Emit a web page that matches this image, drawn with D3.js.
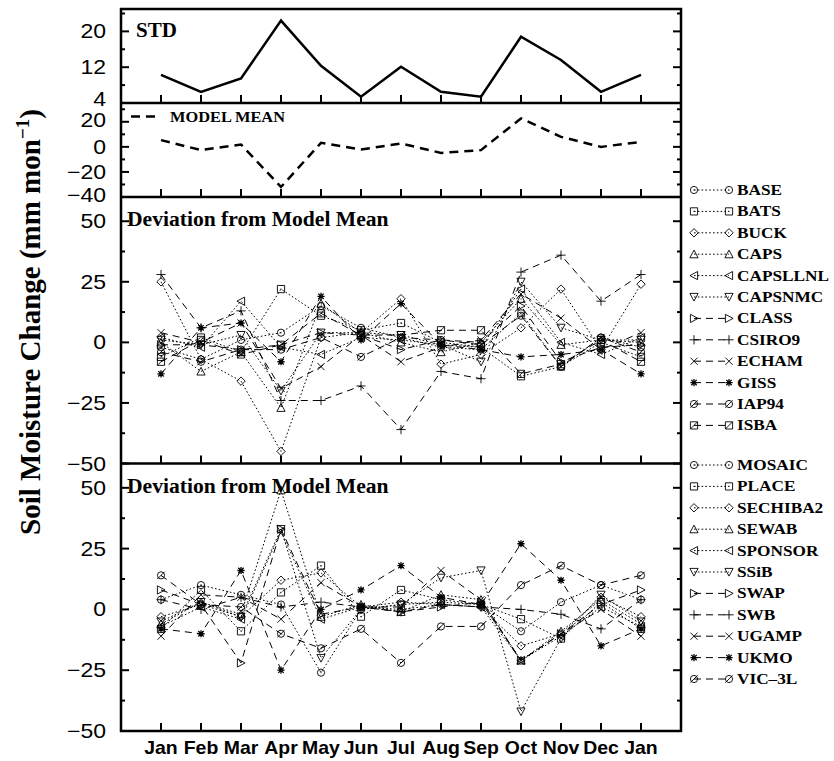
<!DOCTYPE html>
<html>
<head>
<meta charset="utf-8">
<script src="https://cdn.jsdelivr.net/npm/d3@7"></script>
<style>
body { margin: 0; background: #fff; }
svg text { fill: #000; }
.tick-lab { font-family: "Liberation Sans", Arial, sans-serif; font-size: 20px; }
.mon { font-family: "Liberation Sans", Arial, sans-serif; font-size: 18px; font-weight: bold; }
.ser { font-family: "Liberation Serif", "Times New Roman", serif; font-weight: bold; }
</style>
</head>
<body>
<div id="chart"></div>
<script>
// soil moisture change, std / model mean / deviations
var w = 834, h = 761;

var months = ["Jan","Feb","Mar","Apr","May","Jun","Jul","Aug","Sep","Oct","Nov","Dec","Jan"];

var std = [10.3, 6.5, 9.5, 22.4, 12.3, 5.4, 12.1, 6.5, 5.4, 18.8, 13.6, 6.5, 10.3];
var modelMean = [5.4, -2.6, 1.9, -32, 3.2, -2.1, 2.7, -4.8, -2.6, 22.7, 8, 0, 4];

var names1 = ["BASE","BATS","BUCK","CAPS","CAPSLLNL","CAPSNMC","CLASS","CSIRO9","ECHAM","GISS","IAP94","ISBA"];
var dev1 = [
  [-2, -7, 1, 4, 15, 6, 2, -2, -3, 12, -10, 2, -2],
  [-6, 2, -4, 22, 11, 5, 8, 0, -2, -14, -10, 0, -6],
  [25, -7, -16, -45, 2, 4, 18, -9, -5, 6, 22, -3, 24],
  [0, -12, -4, -27, 16, 4, 0, -4, 0, 18, -1, 1, 0],
  [2, -2, 17, -2, -5, 2, 1, -1, -2, 22, 0, -5, 2],
  [1, -1, 3, -20, 4, 4, 3, -1, -8, 25, 6, 1, 1],
  [-1, -1, -3, -1, 4, 3, -3, 1, 0, 15, -8, -2, -1],
  [28, 6, 13, -24, -24, -18, -36, -12, -15, 29, 36, 17, 28],
  [4, 0, 8, -19, -10, 3, -8, -2, 1, 20, 10, -3, 4],
  [-13, 6, 8, -8, 19, 1, 16, -1, -3, -6, -5, -3, -13],
  [-4, -8, -3, -3, 2, -6, 2, 1, -1, 11, -10, 2, -4],
  [-8, 1, -5, -1, 12, 3, 3, 5, 5, -13, -9, 1, -8]
];

var names2 = ["MOSAIC","PLACE","SECHIBA2","SEWAB","SPONSOR","SSiB","SWAP","SWB","UGAMP","UKMO","VIC\u20133L"];
var dev2 = [
  [4, 10, 6, 2, -26, 0, 2, 3, 2, -9, 3, 10, 4],
  [-8, 8, -9, 7, 18, -3, 8, 4, 2, -4, -12, 3, -8],
  [-3, 2, -3, 12, 15, 1, 3, 2, 1, -15, -10, 5, -3],
  [-6, 3, -2, 49, -3, 2, -1, 6, 4, -21, -9, 4, -6],
  [-7, 1, -4, 32, -4, 1, 0, 2, 1, -21, -11, 1, -7],
  [-5, 3, -3, 33, -20, 0, 2, 13, 16, -42, -12, 6, -5],
  [8, 2, -22, 33, -2, 1, -1, 1, 3, -21, -10, 2, 8],
  [4, 0, 5, 1, 3, 1, -1, 2, 1, 0, -2, -8, 4],
  [-11, 6, 5, -4, 11, 1, 1, 16, 4, -21, -10, 0, -11],
  [-8, -10, 16, -25, 0, 8, 18, 5, 2, 27, 12, -15, -8],
  [14, 2, 1, -10, -16, -8, -22, -7, -7, 10, 18, 10, 14]
];

var stdTicks = [4, 12, 20], stdMinor = [8, 16, 24];
var meanTicks = [-40, -20, 0, 20], meanMinor = [-30, -10, 10, 30];
var devTicks = [-50, -25, 0, 25, 50], devMinor = [-37.5, -12.5, 12.5, 37.5];

var svg = d3.select("#chart").append("svg").attr("width", w).attr("height", h);

var L = 121, R = 681;
var x = d3.scaleLinear().domain([-1, 13]).range([L, R]);

// text that is a bit wider than the font (the figure was stretched)
function stext(g, tx, ty, sx, cls, anchor) {
  return g.append("text").attr("class", cls)
    .attr("transform", "translate(" + tx + "," + ty + ") scale(" + sx + ",1)")
    .attr("text-anchor", anchor || "start");
}

var panels = [
  {top: 9, bot: 103, dom: [4, 25], major: stdTicks, minor: stdMinor},
  {top: 103, bot: 197, dom: [-40, 35], major: meanTicks, minor: meanMinor},
  {top: 197, bot: 463.5, dom: [-50, 60], major: devTicks, minor: devMinor},
  {top: 463.5, bot: 731, dom: [-50, 60], major: devTicks, minor: devMinor}
];
panels.forEach(function(p) {
  p.y = d3.scaleLinear().domain(p.dom).range([p.bot, p.top]);
});

// tick marks + labels
panels.forEach(function(p, pi) {
  var g = svg.append("g");
  p.major.forEach(function(v) {
    var yy = p.y(v);
    g.append("line").attr("x1", L).attr("x2", L + 8).attr("y1", yy).attr("y2", yy)
      .attr("stroke", "#000").attr("stroke-width", 2);
    g.append("line").attr("x1", R - 8).attr("x2", R).attr("y1", yy).attr("y2", yy)
      .attr("stroke", "#000").attr("stroke-width", 2);
    var ly = yy + 7;
    if (pi == 0 && v == 4) ly = 105.5;
    if (pi == 1 && v == 20) ly = 126.5;
    if (pi == 1 && v == -40) ly = 202;
    stext(g, 106, ly, 1.15, "tick-lab", "end").text(v < 0 ? "\u2212" + (-v) : v);
  });
  p.minor.forEach(function(v) {
    var yy = p.y(v);
    g.append("line").attr("x1", L).attr("x2", L + 4).attr("y1", yy).attr("y2", yy)
      .attr("stroke", "#000").attr("stroke-width", 2);
    g.append("line").attr("x1", R - 4).attr("x2", R).attr("y1", yy).attr("y2", yy)
      .attr("stroke", "#000").attr("stroke-width", 2);
  });
  months.forEach(function(m, i) {
    g.append("line").attr("x1", x(i)).attr("x2", x(i))
      .attr("y1", p.bot).attr("y2", p.bot - 8)
      .attr("stroke", "#000").attr("stroke-width", 2);
  });
});

// frames
svg.append("rect").attr("x", L).attr("y", 9).attr("width", R - L).attr("height", 731 - 9)
  .attr("fill", "none").attr("stroke", "#000").attr("stroke-width", 2.5);
[103, 197, 463.5].forEach(function(yy) {
  svg.append("line").attr("x1", L).attr("x2", R).attr("y1", yy).attr("y2", yy)
    .attr("stroke", "#000").attr("stroke-width", 2.5);
});

// month labels
months.forEach(function(m, i) {
  stext(svg, x(i), 754, 1.08, "mon", "middle").text(m);
});

// STD
var line0 = d3.line().x(function(d, i) { return x(i); }).y(function(d) { return panels[0].y(d); });
svg.append("path").attr("d", line0(std)).attr("fill", "none")
  .attr("stroke", "#000").attr("stroke-width", 2.5).attr("stroke-linejoin", "miter");
stext(svg, 136, 37, 1.05, "ser").style("font-size", "20px").text("STD");

// model mean
var line1 = d3.line().x(function(d, i) { return x(i); }).y(function(d) { return panels[1].y(d); });
svg.append("path").attr("d", line1(modelMean)).attr("fill", "none")
  .attr("stroke", "#000").attr("stroke-width", 2.5).attr("stroke-dasharray", "9,6");
svg.append("line").attr("x1", 131).attr("x2", 160).attr("y1", 116.5).attr("y2", 116.5)
  .attr("stroke", "#000").attr("stroke-width", 2.5).attr("stroke-dasharray", "9,6");
stext(svg, 170, 122, 1.17, "ser").style("font-size", "14px").text("MODEL MEAN");

// markers
function marker(g, k, cx, cy) {
  var r = 3.6;
  function p(d) {
    return g.append("path").attr("d", d).attr("fill", "none")
      .attr("stroke", "#000").attr("stroke-width", 0.9);
  }
  var c = "M" + (cx - r) + "," + cy + "a" + r + "," + r + " 0 1,0 " + (2 * r) + ",0a" + r + "," + r + " 0 1,0 " + (-2 * r) + ",0";
  var sq = "M" + (cx - r) + "," + (cy - r) + "h" + (2 * r) + "v" + (2 * r) + "h" + (-2 * r) + "Z";
  if (k == 0) { p(c); p("M" + cx + "," + (cy - 0.6) + "v1.2"); }
  else if (k == 1) { p(sq); p("M" + cx + "," + (cy - 0.6) + "v1.2"); }
  else if (k == 2) p("M" + cx + "," + (cy - r - 0.6) + "l" + (r + 0.6) + "," + (r + 0.6) + "l" + (-r - 0.6) + "," + (r + 0.6) + "l" + (-r - 0.6) + "," + (-r - 0.6) + "Z");
  else if (k == 3) p("M" + cx + "," + (cy - r - 0.5) + "L" + (cx + r + 0.5) + "," + (cy + r) + "L" + (cx - r - 0.5) + "," + (cy + r) + "Z");
  else if (k == 4) p("M" + (cx - r - 0.5) + "," + cy + "L" + (cx + r) + "," + (cy - r - 0.5) + "L" + (cx + r) + "," + (cy + r + 0.5) + "Z");
  else if (k == 5) p("M" + cx + "," + (cy + r + 0.5) + "L" + (cx + r + 0.5) + "," + (cy - r) + "L" + (cx - r - 0.5) + "," + (cy - r) + "Z");
  else if (k == 6) p("M" + (cx + r + 0.5) + "," + cy + "L" + (cx - r) + "," + (cy - r - 0.5) + "L" + (cx - r) + "," + (cy + r + 0.5) + "Z");
  else if (k == 7) p("M" + (cx - r - 1) + "," + cy + "h" + (2 * r + 2) + "M" + cx + "," + (cy - r - 1) + "v" + (2 * r + 2));
  else if (k == 8) p("M" + (cx - r) + "," + (cy - r) + "l" + (2 * r) + "," + (2 * r) + "M" + (cx - r) + "," + (cy + r) + "l" + (2 * r) + "," + (-2 * r));
  else if (k == 9) p("M" + (cx - r) + "," + cy + "h" + (2 * r) + "M" + cx + "," + (cy - r) + "v" + (2 * r) +
      "M" + (cx - r * 0.75) + "," + (cy - r * 0.75) + "l" + (1.5 * r) + "," + (1.5 * r) + "M" + (cx - r * 0.75) + "," + (cy + r * 0.75) + "l" + (1.5 * r) + "," + (-1.5 * r)).attr("stroke-width", 1.3);
  else if (k == 10) { p(c); p("M" + (cx - r) + "," + (cy + r) + "l" + (2 * r) + "," + (-2 * r)); }
  else { p(sq); p("M" + (cx - r) + "," + (cy + r) + "l" + (2 * r) + "," + (-2 * r)); }
}

function dash(k) { return k < 6 ? "1.6,2.2" : "7,5"; }

function drawDev(pan, data, names, legTop) {
  var ln = d3.line().x(function(d, i) { return x(i); }).y(function(d) { return pan.y(d); });
  var g = svg.append("g");
  data.forEach(function(s, k) {
    g.append("path").attr("d", ln(s)).attr("fill", "none")
      .attr("stroke", "#000").attr("stroke-width", 1).attr("stroke-dasharray", dash(k));
    s.forEach(function(v, i) { marker(g, k, x(i), pan.y(v)); });
  });
  stext(svg, 127, pan.top + 29, 1.08, "ser").style("font-size", "20px").text("Deviation from Model Mean");
  // legend
  var lg = svg.append("g");
  names.forEach(function(n, k) {
    var yy = legTop + k * 21.4;
    lg.append("line").attr("x1", 694).attr("x2", 729).attr("y1", yy).attr("y2", yy)
      .attr("stroke", "#000").attr("stroke-width", 1).attr("stroke-dasharray", dash(k));
    marker(lg, k, 694, yy);
    marker(lg, k, 729, yy);
    stext(lg, 737, yy + 5, 1.15, "ser").style("font-size", "15px").text(n);
  });
}
drawDev(panels[2], dev1, names1, 190);
drawDev(panels[3], dev2, names2, 465);

// y axis title
var yt = svg.append("text").attr("class", "ser")
  .attr("transform", "translate(40,322) rotate(-90)")
  .attr("text-anchor", "middle").style("font-size", "29px");
yt.append("tspan").text("Soil Moisture Change (mm mon");
yt.append("tspan").attr("dy", -11).style("font-size", "19px").text("\u22121");
yt.append("tspan").attr("dy", 11).text(")");
</script>
</body>
</html>
